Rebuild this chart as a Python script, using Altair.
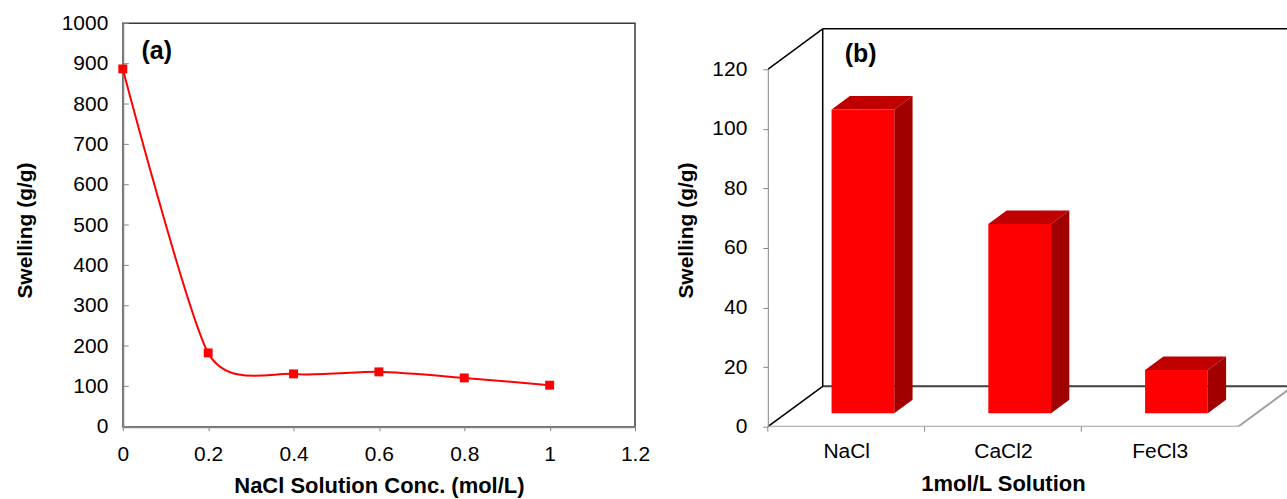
import altair as alt
import pandas as pd

# ---------------- data ----------------
# panel (a)
conc = [0.0, 0.2, 0.4, 0.6, 0.8, 1.0]
swelling_a = [887, 183, 131, 136, 121, 103]
x_ticks_a = [0, 0.2, 0.4, 0.6, 0.8, 1.0, 1.2]
y_ticks_a = [0, 100, 200, 300, 400, 500, 600, 700, 800, 900, 1000]

# panel (b)
salts = ["NaCl", "CaCl2", "FeCl3"]
swelling_b = [102, 63.5, 14.5]
y_ticks_b = [0, 20, 40, 60, 80, 100, 120]

# ---------------- style ----------------
FONT = "Liberation Sans"
RED = "#FF0000"
TOP = "#C00000"
SIDE = "#A00000"
AXIS_GRAY = "#868686"

W_A, H_A = 513, 404
W_B, H_B = 520, 404
CAT_PX = 157.0                  # pixels per category in panel b
VAL_PX = 358.0 / 120.0          # pixels per unit in panel b
XMAX_B = W_B / CAT_PX
YMAX_B = H_B / VAL_PX
DX = 55.0 / CAT_PX              # depth offset (x) in category units
DY = 40.5 / VAL_PX              # depth offset (y) in value units
BAR_L, BAR_W = 0.29, 0.40
F_FRONT, F_BACK = 1.0 / 3.0, 2.0 / 3.0

# ---------------- panel (a) ----------------
df_a = pd.DataFrame({"conc": conc, "swell": swelling_a})

xa = alt.X(
    "conc:Q",
    scale=alt.Scale(domain=[0, 1.2], nice=False, zero=False),
    axis=alt.Axis(values=x_ticks_a, format="~g", title="NaCl Solution Conc. (mol/L)",
                  grid=False, tickSize=4, tickColor=AXIS_GRAY, domainColor=AXIS_GRAY,
                  domainWidth=2, labelPadding=13, labelFlush=False, titleX=W_A / 2, titleY=59,
                  titleFontSize=22, titleBaseline="middle", titleAlign="center"),
)
ya = alt.Y(
    "swell:Q",
    scale=alt.Scale(domain=[0, 1000], nice=False),
    axis=alt.Axis(values=y_ticks_a, format="d", title="Swelling (g/g)", grid=False,
                  ticks=False, tickSize=0, labelPadding=15, domainColor=AXIS_GRAY,
                  domainWidth=2, titleX=-97, titleY=H_A / 2 + 5, titleAngle=270,
                  titleBaseline="middle", titleAlign="center"),
)

line_a = alt.Chart(df_a).mark_line(interpolate="cardinal", tension=0.3, color=RED, strokeWidth=2).encode(x=xa, y=ya)
pts_a = alt.Chart(df_a).mark_square(size=80, color=RED, filled=True, opacity=1).encode(x="conc:Q", y="swell:Q")
yticks_a = alt.Chart(pd.DataFrame({"t": y_ticks_a})).mark_rule(color=AXIS_GRAY, strokeWidth=1).encode(
    y="t:Q", x=alt.value(0), x2=alt.value(6))
lab_a = alt.Chart(pd.DataFrame({"lab": ["(a)"]})).mark_text(
    font=FONT, fontSize=25, fontWeight="bold", align="center", baseline="middle", color="black"
).encode(text="lab:N", x=alt.value(34), y=alt.value(28))

chart_a = alt.layer(yticks_a, line_a, pts_a, lab_a).properties(
    width=W_A, height=H_A,
    view=alt.ViewBackground(stroke="#3a3a3a", strokeWidth=1.5),
)

# ---------------- panel (b) ----------------
front_rows, poly_rows = [], []
for i, (s, v) in enumerate(zip(salts, swelling_b)):
    a = i + BAR_L + DX * F_FRONT
    d = DX * (F_BACK - F_FRONT)
    e = DY * (F_BACK - F_FRONT)
    y0 = DY * F_FRONT
    V = v + y0
    front_rows.append({"salt": s, "x": a, "x2": a + BAR_W, "y": y0, "y2": V})
    # top face (parallelogram)
    for xx, yy, yy2 in [(a, V, V), (a + d, V, V + e), (a + BAR_W, V, V + e), (a + BAR_W + d, V + e, V + e)]:
        poly_rows.append({"poly": f"{s}-top", "x": xx, "y": yy, "y2": yy2, "c": TOP})
    # side face (parallelogram)
    for xx, yy, yy2 in [(a + BAR_W, y0, V), (a + BAR_W + d, y0 + e, V + e)]:
        poly_rows.append({"poly": f"{s}-side", "x": xx, "y": yy, "y2": yy2, "c": SIDE})

df_front = pd.DataFrame(front_rows)
df_poly = pd.DataFrame(poly_rows)

ncat = len(salts)
TOPV = max(y_ticks_b)
seg_rows = [
    (DX, DY, XMAX_B + 1, DY, "#404040", 2),                # back floor line
    (0, 0, DX, DY, "#000000", 1.5),                        # floor left diagonal
    (DX, DY, DX, TOPV + DY, "#000000", 1.5),               # back wall left edge
    (DX, TOPV + DY, XMAX_B + 1, TOPV + DY, "#000000", 1.5),  # back wall top
    (0, TOPV, DX, TOPV + DY, "#000000", 1.5),              # side wall top diagonal
    (0, 0, 0, TOPV, AXIS_GRAY, 2),                         # front value axis
    (0, 0, ncat, 0, "#a0a0a0", 2),                         # front floor edge
    (ncat, 0, ncat + DX, DY, "#a0a0a0", 2),                # floor right diagonal
]
df_seg = pd.DataFrame(seg_rows, columns=["x", "y", "x2", "y2", "c", "w"])

label_expr = "[" + ",".join(f"'{s}'" for s in salts) + "][floor(datum.value)]"
xb = alt.X(
    "x:Q",
    scale=alt.Scale(domain=[0, XMAX_B], nice=False, zero=False),
    axis=alt.Axis(values=[i + 0.5 for i in range(ncat)], labelExpr=label_expr, title="1mol/L Solution",
                  grid=False, ticks=False, tickSize=0, domain=False, labelPadding=14, labelFlush=False,
                  titleX=ncat * CAT_PX / 2, titleY=57, titleFontSize=22,
                  titleBaseline="middle", titleAlign="center"),
)
yb = alt.Y(
    "y:Q",
    scale=alt.Scale(domain=[0, YMAX_B], nice=False),
    axis=alt.Axis(values=y_ticks_b, format="d", title="Swelling (g/g)", grid=False,
                  ticks=True, tickSize=5, tickColor=AXIS_GRAY, domain=False, labelPadding=16,
                  titleX=-81, titleY=H_B / 2 + 5, titleAngle=270,
                  titleBaseline="middle", titleAlign="center"),
)

segs = alt.Chart(df_seg).mark_rule(clip=True).encode(
    x=xb, y=yb, x2="x2:Q", y2="y2:Q",
    color=alt.Color("c:N", scale=None),
    strokeWidth=alt.StrokeWidth("w:Q", scale=None),
)
cat_ticks = alt.Chart(pd.DataFrame({"b": list(range(ncat))})).mark_rule(color=AXIS_GRAY, strokeWidth=1).encode(
    x="b:Q", y=alt.value(H_B), y2=alt.value(H_B + 5))
fronts = alt.Chart(df_front).mark_rect(color=RED).encode(x="x:Q", x2="x2:Q", y="y:Q", y2="y2:Q")
faces = alt.Chart(df_poly).mark_area(interpolate="linear", opacity=1).encode(
    x="x:Q", y="y:Q", y2="y2:Q",
    color=alt.Color("c:N", scale=None),
    detail="poly:N",
)
lab_b = alt.Chart(pd.DataFrame({"lab": ["(b)"]})).mark_text(
    font=FONT, fontSize=25, fontWeight="bold", align="center", baseline="middle", color="black"
).encode(text="lab:N", x=alt.value(93), y=alt.value(31))

chart_b = alt.layer(segs, cat_ticks, faces, fronts, lab_b).properties(
    width=W_B, height=H_B,
    view=alt.ViewBackground(strokeOpacity=0),
)

chart = alt.hconcat(chart_a, chart_b, spacing=133, bounds="flush").configure(
    padding={"left": 14, "top": 11, "right": 0, "bottom": 0},
    background="white",
).configure_axis(
    labelFont=FONT, labelFontSize=21, labelColor="black",
    titleFont=FONT, titleFontSize=21, titleFontWeight="bold", titleColor="black",
)

chart.save("out.html", embed_options={"renderer": "svg", "actions": False})
